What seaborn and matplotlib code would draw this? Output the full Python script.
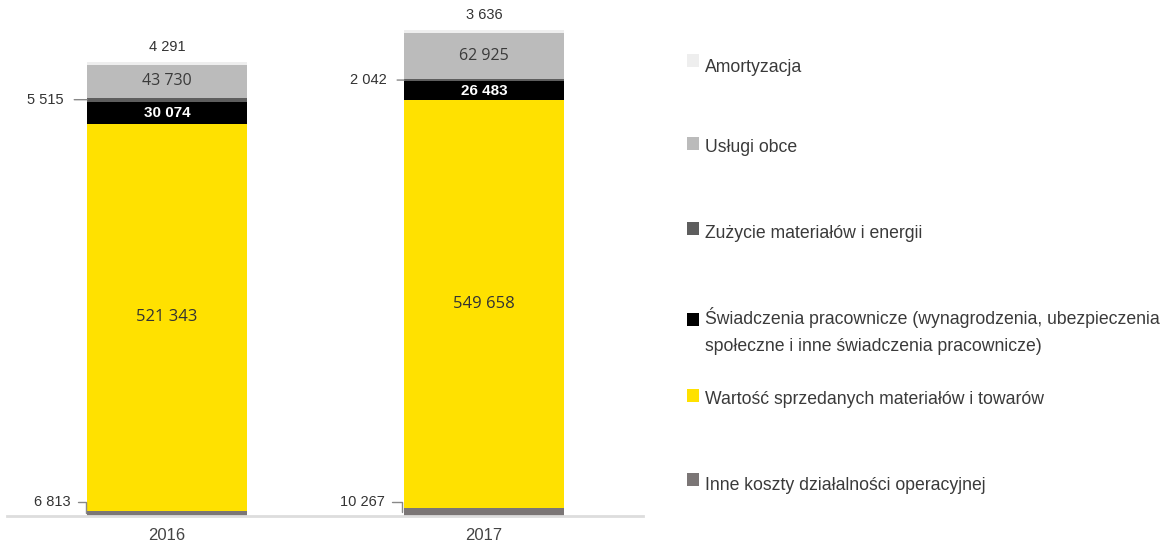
import matplotlib
matplotlib.use("Agg")
import matplotlib.pyplot as plt
from matplotlib.patches import Rectangle
import numpy as np
import pandas as pd
import seaborn as sns

# data (bottom -> top of each stacked bar)
years = ["2016", "2017"]
inne = [6813, 10267]
wartosc = [521343, 549658]
swiadczenia = [30074, 26483]
zuzycie = [5515, 2042]
uslugi = [43730, 62925]
amortyzacja = [4291, 3636]

layer_names = [
    "Inne koszty działalności operacyjnej",
    "Wartość sprzedanych materiałów i towarów",
    "Świadczenia pracownicze (wynagrodzenia, ubezpieczenia\nspołeczne i inne świadczenia pracownicze)",
    "Zużycie materiałów i energii",
    "Usługi obce",
    "Amortyzacja",
]
layer_values = [inne, wartosc, swiadczenia, zuzycie, uslugi, amortyzacja]
layer_colors = ["#7b7676", "#ffe100", "#000000", "#5e5e5e", "#bbbbbb", "#eeeeee"]


def fmt(v):
    return f"{v:,}".replace(",", " ")


sns.set_style("white")
plt.rcParams["font.family"] = ["Liberation Sans", "DejaVu Sans"]

fig = plt.figure(figsize=(11.69, 5.45), dpi=100)
W, H = 1169, 545
ax = fig.add_axes([7 / W, 29 / H, 636 / W, 516 / H])

bar_w = 0.505
bottom = np.zeros(len(years))
for vals, col in zip(layer_values, layer_colors):
    df = pd.DataFrame({"year": years, "value": vals})
    sns.barplot(data=df, x="year", y="value", bottom=bottom, color=col,
                width=bar_w, errorbar=None, linewidth=0, saturation=1, ax=ax)
    bottom = bottom + np.array(vals)

totals = bottom
ax.set_xlim(-0.505, 1.502)
ax.set_ylim(0, totals[0] * 516 / 454)

# inside labels
cum = np.zeros(len(years))
starts = []
for vals in layer_values:
    starts.append(cum.copy())
    cum = cum + np.array(vals)

for i in range(len(years)):
    # yellow
    ax.text(i, starts[1][i] + wartosc[i] / 2, fmt(wartosc[i]), ha="center", va="center",
            fontsize=12, color="#333333", family=["Open Sans", "DejaVu Sans"])
    # black
    ax.text(i, starts[2][i] + swiadczenia[i] / 2, fmt(swiadczenia[i]), ha="center", va="center",
            fontsize=11, color="white", fontweight="bold")
    # grey
    ax.text(i, starts[4][i] + uslugi[i] / 2, fmt(uslugi[i]), ha="center", va="center",
            fontsize=11.5, color="#3a3a3a", family=["Open Sans", "DejaVu Sans"])
    # top label
    ax.annotate(fmt(amortyzacja[i]), xy=(i, totals[i]), xytext=(0, 15),
                textcoords="offset pixels", ha="center", va="center",
                fontsize=10.5, color="#333333")

# leader-line labels
left_edges = [i - bar_w / 2 for i in range(len(years))]
zu_off = [(-23, 0), (-17, 0)]
for i in range(len(years)):
    ax.annotate(fmt(zuzycie[i]), xy=(left_edges[i], starts[3][i] + zuzycie[i] / 2),
                xytext=zu_off[i], textcoords="offset pixels", ha="right", va="center",
                fontsize=10.5, color="#333333",
                arrowprops=dict(arrowstyle="-", color="#888888", lw=1,
                                shrinkA=5, shrinkB=0))
inne_off = [(-15, 11), (-18, 10)]
for i in range(len(years)):
    ax.annotate(fmt(inne[i]), xy=(left_edges[i] - 1.5 / 317, inne[i] / 2),
                xytext=inne_off[i], textcoords="offset pixels", ha="right", va="center",
                fontsize=10.5, color="#333333",
                arrowprops=dict(arrowstyle="-", color="#888888", lw=1,
                                shrinkA=3, shrinkB=0,
                                connectionstyle="angle,angleA=0,angleB=90,rad=0"))

for s in ["top", "right", "left"]:
    ax.spines[s].set_visible(False)
ax.spines["bottom"].set_color("#dddddd")
ax.spines["bottom"].set_linewidth(2)
ax.set_yticks([])
ax.set_xlabel("")
ax.set_ylabel("")
ax.tick_params(axis="x", length=0, pad=9, labelsize=12, labelcolor="#444444")

# legend drawn by hand
legend_y = [485, 400, 331, 233, 148, 67]
square_top = [473, 389, 313, 222, 137, 54]
for name, col, yc, st in zip(layer_names, layer_colors, legend_y, square_top):
    fig.add_artist(Rectangle((687 / W, 1 - (st + 13) / H), 12 / W, 13 / H,
                             transform=fig.transFigure, facecolor=col, edgecolor="none"))
    fig.text(705 / W, 1 - yc / H, name, ha="left", va="center", fontsize=12.7,
             color="#3a3a3a", linespacing=1.72)

fig.savefig("out.png", dpi=100)
